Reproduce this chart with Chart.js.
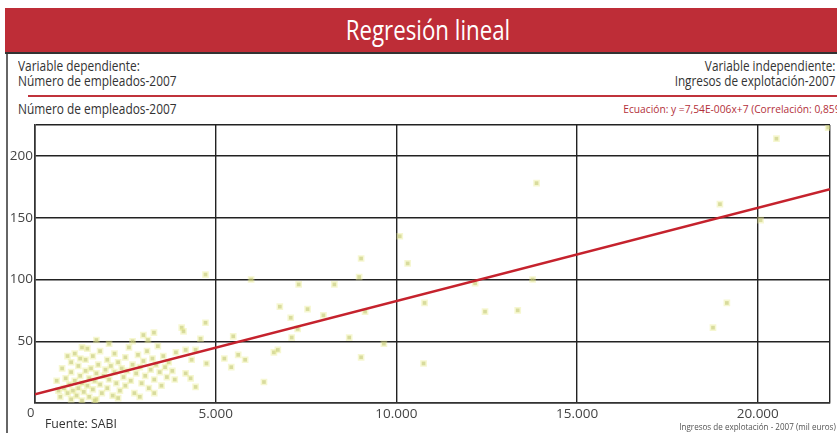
<!DOCTYPE html>
<html lang="es">
<head>
<meta charset="utf-8">
<script src="https://cdn.jsdelivr.net/npm/chart.js@4.4.1/dist/chart.umd.min.js"></script>
<style>
  body { margin: 0; background: #fff; font-family: "Open Sans", sans-serif; color: #333; }
  #page { position: relative; width: 837px; height: 433px; overflow: hidden; }
  .abs { position: absolute; white-space: nowrap; }
  .sl { transform-origin: left center; }
  .sr { transform-origin: right center; }
  #header { left: 5px; top: 8px; width: 832px; height: 46px; background: #be2d37;
            border-bottom: 2px solid #333; box-sizing: border-box; }
  #title { left: 7px; width: 832px; top: 0; text-align: center; color: #fff; font-size: 27.5px; line-height: 44px;
           transform: scaleX(0.81); transform-origin: center; }
  #leftline { left: 6px; top: 54px; width: 2px; height: 379px; background: #666; }
  #redline { left: 28px; top: 95px; width: 809px; height: 2px; background: #c0323b; }
  .t14 { font-size: 14px; line-height: 15px; color: #333; }
  #eq { right: -6px; top: 101px; font-size: 11.5px; color: #b3303a; transform: scaleX(0.89); }
  #xtitle { right: 1px; top: 421px; font-size: 8.5px; color: #555; transform: scaleX(0.95); }
  #chartbox { left: 0; top: 115px; width: 837px; height: 318px; }
</style>
</head>
<body>
<div id="page">
  <div id="header" class="abs"><div id="title" class="abs">Regresión lineal</div></div>
  <div id="leftline" class="abs"></div>
  <div class="abs t14 sl" style="left:18px; top:58px; transform:scaleX(0.85);">Variable dependiente:<br>Número de empleados-2007</div>
  <div class="abs t14 sr" style="right:2px; top:58px; text-align:right; transform:scaleX(0.84);">Variable independiente:<br>Ingresos de explotación-2007</div>
  <div id="redline" class="abs"></div>
  <div class="abs t14 sl" style="left:18px; top:101px; transform:scaleX(0.85);">Número de empleados-2007</div>
  <div id="eq" class="abs sr">Ecuación: y =7,54E-006x+7 (Correlación: 0,859)</div>
  <div id="chartbox" class="abs"><canvas id="regChart" width="837" height="318"></canvas></div>
  <div class="abs" style="left:27px; top:403px; font-size:13px; color:#444;">0</div>
  <div class="abs sl" style="left:45px; top:414px; font-size:13.5px; color:#333; transform:scaleX(0.91);">Fuente: SABI</div>
  <div id="xtitle" class="abs sr">Ingresos de explotación - 2007 (mil euros)</div>
</div>
<script>
// Ingresos de explotación (mil euros) de cada empresa
const ingresos = [
  700, 800, 850, 900, 950, 1000, 1000, 1050, 1100, 1150, 1200, 1200, 1250, 1300, 1300,
  1350, 1400, 1400, 1450, 1500, 1500, 1550, 1600, 1600, 1650, 1700, 1700, 1750, 1800, 1800,
  1850, 1900, 1950, 2000, 2000, 2050, 2100, 2150, 2200, 2200, 2250, 2300, 2350, 2400, 2450,
  2500, 2500, 2550, 2600, 2650, 2700, 2750, 2800, 2850, 2900, 2950, 3000, 3050, 3100, 3150,
  3200, 3250, 3300, 3350, 3400, 3450, 3500, 3550, 3600, 3650, 3700, 3800, 3900, 600, 650,
  750, 1100, 1250, 1450, 2050, 1000, 2700, 3000, 900, 1300, 2300, 3300, 1650, 2900,
  1700, 3127, 4580, 4718, 5980, 6775, 7077, 7104, 4718, 4060, 4110, 3292, 5486, 6611, 5239,
  5431, 5623, 5815, 6336, 4745, 4444, 4306, 4169, 3868, 4334, 4169, 4444,
  13880, 10094, 10313, 9024, 8970, 7297, 8284, 7543, 7982, 9134, 7269, 8695, 9655, 9024,
  10753, 10780, 12179, 12453, 13358, 13770, 6720,
  20518, 21950, 18954, 20079, 19146, 18762
];
// Número de empleados de cada empresa
const empleados = [
  5, 12, 20, 8, 15, 3, 25, 10, 18, 6, 30, 12, 22, 2, 16,
  9, 26, 35, 14, 20, 5, 28, 11, 38, 18, 24, 3, 31, 15, 42,
  8, 22, 27, 12, 35, 19, 30, 6, 25, 40, 16, 33, 10, 28, 21,
  37, 14, 26, 45, 18, 31, 8, 24, 39, 29, 16, 34, 22, 42, 12,
  27, 36, 19, 31, 46, 25, 14, 38, 29, 21, 33, 26, 41, 18, 10,
  28, 40, 36, 44, 48, 33, 50, 55, 38, 45, 4, 8, 2, 5,
  51, 51, 52, 104, 100, 78, 69, 53, 65, 61, 58, 57, 54, 41, 36,
  29, 39, 35, 17, 32, 13, 20, 24, 19, 35, 43, 43,
  178, 135, 113, 117, 102, 96, 96, 76, 71, 74, 60, 53, 48, 37,
  32, 81, 97, 74, 75, 100, 43,
  214, 223, 161, 148, 81, 61
];
// Recta de regresión (extremos)
const rectaX = [0, 22000];
const rectaY = [7, 173];
const xTicks = [0, 5000, 10000, 15000, 20000];
const yTicks = [50, 100, 150, 200];

function miles(v) {
  return String(v).replace(/\B(?=(\d{3})+(?!\d))/g, ".");
}

const puntos = ingresos.map((x, i) => ({ x: x, y: empleados[i] }));
const recta = rectaX.map((x, i) => ({ x: x, y: rectaY[i] }));

const config = {
  type: "scatter",
  data: {
    datasets: [
      {
        type: "line",
        label: "Regresión",
        data: recta,
        borderColor: "#c5222d",
        borderWidth: 2.5,
        pointRadius: 0,
        fill: false,
      },
      {
        label: "Empresas",
        data: puntos,
        pointStyle: "rect",
        pointRadius: 2.6,
        backgroundColor: "rgba(175, 182, 110, 0.6)",
        borderColor: "rgba(232, 236, 140, 0.4)",
        borderWidth: 3,
      },
    ],
  },
  options: {
    responsive: false,
    animation: false,
    layout: { padding: { top: 10, right: 0, left: 0, bottom: 0 } },
    plugins: {
      legend: { display: false },
      tooltip: { enabled: false },
    },
    scales: {
      x: {
        type: "linear",
        min: 0,
        max: 22000,
        afterFit: (scale) => { scale.height = 30; },
        afterBuildTicks: (scale) => {
          scale.ticks = xTicks.concat([22000]).map((v) => ({ value: v }));
        },
        grid: { color: "#222", lineWidth: 1.4, drawTicks: false },
        border: { color: "#333", width: 1.6 },
        ticks: {
          padding: 3,
          color: "#444",
          font: { family: "'Open Sans', sans-serif", size: 13.5 },
          callback: (v) => (v > 0 && xTicks.includes(v) ? miles(v) : ""),
        },
      },
      y: {
        min: 0,
        max: 225,
        afterFit: (scale) => { scale.width = 35; },
        afterBuildTicks: (scale) => {
          scale.ticks = [0].concat(yTicks, [225]).map((v) => ({ value: v }));
        },
        grid: { color: "#222", lineWidth: 1.4, drawTicks: false },
        border: { color: "#333", width: 1.6 },
        ticks: {
          padding: 2,
          color: "#444",
          font: { family: "'Open Sans', sans-serif", size: 13.5 },
          callback: (v) => (yTicks.includes(v) ? v : ""),
        },
      },
    },
  },
};

const regChart = new Chart(document.getElementById("regChart"), config);
</script>
</body>
</html>
